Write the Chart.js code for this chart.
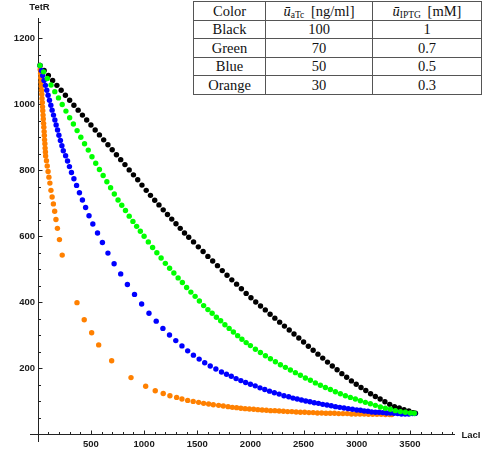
<!DOCTYPE html>
<html>
<head>
<meta charset="utf-8">
<script src="https://cdn.jsdelivr.net/npm/chart.js@4.4.0/dist/chart.umd.min.js"></script>
<style>
    body { margin: 0; background: #fff; }
    #wrap { position: relative; width: 484px; height: 451px; }
    #legendTable {
        position: absolute; left: 193px; top: 1px;
        border-collapse: collapse; background: #fff;
        font-family: "Liberation Serif", "Times New Roman", serif;
        font-size: 14.5px; color: #111; line-height: 1;
    }
    #legendTable td { border: 1px solid #555; height: 17.5px; padding: 0; text-align: center; }
    #legendTable sub { font-size: 9.5px; vertical-align: -2px; line-height: 0; margin-right: 3px; }
</style>
</head>
<body>
<div id="wrap">
    <canvas id="toggleChart" width="484" height="451"></canvas>
    <table id="legendTable">
        <tr><td style="width:71px">Color</td><td style="width:106px"><i>ū</i><sub>aTc</sub> [ng/ml]</td><td style="width:108px"><i>ū</i><sub>IPTG</sub> [mM]</td></tr>
        <tr><td>Black</td><td>100</td><td>1</td></tr>
        <tr><td>Green</td><td>70</td><td>0.7</td></tr>
        <tr><td>Blue</td><td>50</td><td>0.5</td></tr>
        <tr><td>Orange</td><td>30</td><td>0.3</td></tr>
    </table>
</div>
<script>
// trajectories in the LacI / TetR plane, one per inducer pair
const blackLacI = [21,60,100,140,180,220,260,300,340,380,420,460,500,540,580,620,660,700,740,780,
    820,860,900,940,980,1020,1060,1100,1140,1180,1220,1260,1300,1340,1380,1420,1465,1510,1555,1600,
    1645,1690,1735,1780,1825,1870,1915,1960,2005,2050,2095,2140,2185,2230,2275,2320,2365,2410,2455,2500,
    2545,2590,2635,2680,2725,2770,2815,2860,2905,2950,2995,3040,3085,3130,3175,3220,3265,3310,3355,3400,
    3445,3490,3530,3552];
const blackTetR = [1117,1102,1087,1072,1057,1042,1027,1012,997,982,967,952,937,922,907,892,877,862,847,832,
    817,801,786,771,755,739,724,709,695,680,666,652,638,624,610,597,583,568,554,539,
    525,511,496,482,468,455,441,427,414,401,389,377,364,352,340,328,316,304,292,280,
    267,255,243,231,219,207,196,184,173,162,152,142,133,123,115,107,99,91,84,80,
    75,71,66,64];

const greenLacI = [21,55,90,125,160,195,230,265,300,335,370,405,440,475,510,545,580,615,650,685,
    720,755,790,825,860,895,930,965,1000,1040,1080,1120,1160,1200,1240,1280,1320,1360,1400,1440,
    1480,1520,1560,1600,1640,1680,1720,1760,1800,1840,1880,1920,1960,2000,2047,2094,2141,2188,2235,2282,
    2329,2376,2423,2470,2517,2564,2611,2658,2705,2752,2799,2846,2893,2940,2987,3034,3081,3128,3175,3222,
    3269,3316,3363,3410,3457,3504,3541];
const greenTetR = [1117,1098,1078,1058,1038,1019,999,979,959,940,920,900,880,861,841,821,802,784,765,747,
    728,710,694,678,661,645,630,615,600,583,566,550,534,518,503,489,474,460,445,431,
    418,404,390,378,367,355,344,332,321,310,299,288,278,269,258,248,238,229,220,211,
    203,195,187,179,171,164,156,149,142,136,129,123,117,112,107,102,97,93,88,83,
    79,76,72,69,67,65,64];

const blueLacI = [21,34,46,59,72,85,97,110,123,135,148,161,173,186,199,213,227,240,
    262,280,298,317,340,365,392,420,450,482,518,562,608,660,718,780,843,910,977,1046,
    1114,1177,1239,1298,1356,1410,1464,1518,1570,1622,1675,1728,1775,
    1820,1865,1910,1955,2000,2045,2090,2135,2180,2225,2270,2315,2360,2400,2440,2480,2520,2560,2600,2640,
    2680,2720,2760,2800,2840,2880,2920,2960,3000,3035,3070,3105,3140,3175,3210,3245,3280,3315,3350,3385,
    3420,3455,3490,3525,3545];
const blueTetR = [1117,1102,1087,1072,1057,1042,1027,1012,997,982,967,952,937,922,906,890,874,859,
    844,828,811,793,774,754,732,710,687,662,637,610,581,549,517,486,454,424,395,367,
    343,321,301,284,268,253,240,228,217,207,198,189,182,
    176,169,163,157,152,147,141,136,131,126,122,117,114,110,107,104,101,99,96,94,
    91,89,87,84,82,80,78,76,74,73,71,70,68,67,67,66,65,65,64,63,
    62,62,62,63,63];

const orangeLacI = [21,23,26,28,31,33,35,38,40,43,45,47,50,52,55,57,60,62,64,67,69,72,74,
    82,89,97,105,114,124,135,147,159,171,185,204,230,
    369,437,507,573,695,877,1015,1105,1180,1243,1306,1356,1410,1462,1513,1560,1607,1651,1701,1745,
    1790,1830,1870,1910,1950,1990,2030,2070,2110,2150,2190,2230,2270,2310,2350,2390,2430,2470,2510,2550,
    2590,2630,2670,2710,2750,2790,2830,2870,2910,2950,2990,3030,3070,3110,3150,3190,3230,3270,3310,3330];
const orangeTetR = [1117,1105,1092,1080,1067,1055,1042,1030,1017,1005,992,980,967,955,942,930,917,905,892,880,867,855,843,
    829,813,796,779,761,739,719,698,676,651,624,590,543,
    399,347,308,271,223,172,146,132,124,117,112,107,103,100,97,94,92,90,88,86,
    84,82,81,79,78,77,76,75,74,73,72,72,71,70,69,69,68,67,67,66,
    66,65,65,64,64,64,63,63,63,62,62,62,62,61,61,61,61,60,60,60];

const xTicks = [500, 1000, 1500, 2000, 2500, 3000, 3500];
const yTicks = [200, 400, 600, 800, 1000, 1200];

function toPoints(lac, tet) {
    return lac.map((v, i) => ({ x: v, y: tet[i] }));
}

// axes cross at the origin, ticks point into the plot
const crossAxes = {
    id: 'crossAxes',
    beforeDatasetsDraw(chart) {
        const { ctx, chartArea: a, scales: { x, y } } = chart;
        const ax = Math.round(x.getPixelForValue(0)) + 0.5;
        const ay = Math.round(y.getPixelForValue(0)) + 0.5;
        ctx.save();
        ctx.strokeStyle = '#222';
        ctx.lineWidth = 1;
        ctx.beginPath();
        ctx.moveTo(a.left, ay); ctx.lineTo(a.right, ay);
        ctx.moveTo(ax, a.bottom); ctx.lineTo(ax, a.top);
        for (let v = 100; v <= 3900; v += 100) {
            const px = Math.round(x.getPixelForValue(v)) + 0.5;
            ctx.moveTo(px, ay); ctx.lineTo(px, ay - (v % 500 === 0 ? 4 : 2.5));
        }
        for (let v = 50; v <= 1250; v += 50) {
            const py = Math.round(y.getPixelForValue(v)) + 0.5;
            ctx.moveTo(ax, py); ctx.lineTo(ax + (v % 200 === 0 ? 4 : 2.5), py);
        }
        ctx.stroke();

        ctx.fillStyle = '#1a1a1a';
        ctx.font = 'bold 9.5px "Liberation Sans", Arial, sans-serif';
        ctx.textBaseline = 'middle';
        ctx.textAlign = 'center';
        xTicks.forEach(v => ctx.fillText(String(v), x.getPixelForValue(v), ay + 9.5));
        ctx.textAlign = 'right';
        yTicks.forEach(v => ctx.fillText(String(v), ax - 3.5, y.getPixelForValue(v)));
        ctx.textAlign = 'center';
        ctx.fillText('TetR', ax + 1, 7.5);
        ctx.textAlign = 'left';
        ctx.fillText('LacI', 461.5, ay + 0.5);
        ctx.restore();
    }
};

function series(lac, tet, color, order) {
    return {
        data: toPoints(lac, tet),
        backgroundColor: color,
        borderColor: color,
        borderWidth: 0,
        pointRadius: 2.7,
        pointHoverRadius: 2.7,
        showLine: false,
        order: order
    };
}

const ctx = document.getElementById('toggleChart').getContext('2d');
new Chart(ctx, {
    type: 'scatter',
    data: {
        datasets: [
            series(blackLacI, blackTetR, '#000000', 4),
            series(orangeLacI, orangeTetR, '#ff8000', 3),
            series(blueLacI, blueTetR, '#0000ff', 2),
            series(greenLacI, greenTetR, '#00ff00', 1)
        ]
    },
    options: {
        responsive: false,
        animation: false,
        layout: { padding: { left: 30, right: 29, top: 18, bottom: 9 } },
        plugins: { legend: { display: false }, tooltip: { enabled: false } },
        scales: {
            x: { type: 'linear', min: -73, max: 3924, display: false },
            y: { type: 'linear', min: -23, max: 1261, display: false }
        }
    },
    plugins: [crossAxes]
});
</script>
</body>
</html>
